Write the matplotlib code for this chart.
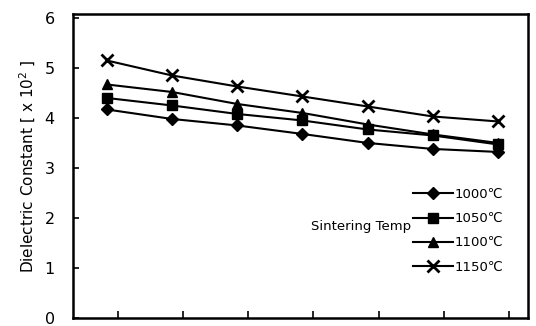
import matplotlib.pyplot as plt
import numpy as np

# data
x = np.arange(7)
temps = ['1000\u2103', '1050\u2103', '1100\u2103', '1150\u2103']
t1000 = [4.17, 3.98, 3.85, 3.68, 3.50, 3.38, 3.32]
t1050 = [4.40, 4.25, 4.08, 3.95, 3.77, 3.65, 3.47]
t1100 = [4.67, 4.52, 4.28, 4.10, 3.87, 3.67, 3.50]
t1150 = [5.15, 4.85, 4.63, 4.43, 4.23, 4.03, 3.93]
series = [t1000, t1050, t1100, t1150]
markers = ['D', 's', '^', 'x']
msizes = [6, 7, 7.5, 9]

fig = plt.figure(figsize=(5.36, 3.26), dpi=100)
ax = fig.add_axes([0.136, 0.025, 0.849, 0.932])

for ys, lab, m, ms in zip(series, temps, markers, msizes):
    ax.plot(x, ys, color='black', lw=1.5, marker=m, ms=ms,
            mew=2 if m == 'x' else 1, label=lab)

ax.set_xlim(-0.52, 6.46)
ax.set_ylim(0, 6.08)
ax.set_yticks(range(7))
ax.set_xticks(x + 0.17)
ax.set_xticklabels([])
ax.tick_params(axis='x', direction='in', length=5, width=1.2)
ax.tick_params(axis='y', direction='in', length=4, width=1.2,
               labelsize=11.5, pad=13)
for s in ax.spines.values():
    s.set_linewidth(1.8)

ax.set_ylabel('Dielectric Constant [ x 10$^2$ ]', fontsize=11, labelpad=5)

leg = ax.legend(loc='upper left', bbox_to_anchor=(413 / 536, 1 - 188 / 326),
                bbox_transform=fig.transFigure, frameon=False, fontsize=9.5,
                handlelength=3.0, handletextpad=0.15, labelspacing=0.85,
                borderpad=0, borderaxespad=0)
fig.text(311 / 536, 1 - 230 / 326, 'Sintering Temp', fontsize=9.5)

fig.savefig('out.png', dpi=100)
